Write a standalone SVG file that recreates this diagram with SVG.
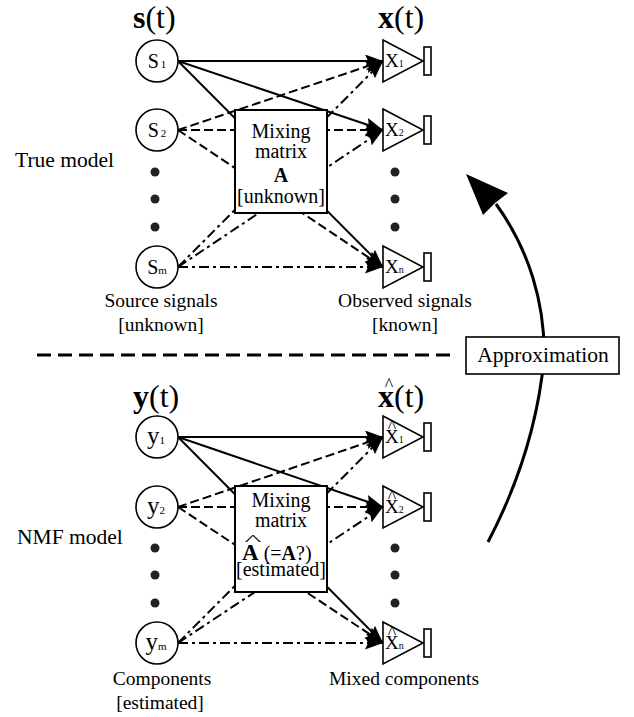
<svg xmlns="http://www.w3.org/2000/svg" width="634" height="717" viewBox="0 0 634 717">
<defs>
<marker id="ah" markerUnits="userSpaceOnUse" viewBox="0 0 18 13" refX="18" refY="6.5" markerWidth="18" markerHeight="13" orient="auto">
<path d="M0,0 L18,6.5 L0,13 L3,6.5 z" fill="#000"/>
</marker>
<style>
text{font-family:"Liberation Serif","Times New Roman",serif;fill:#000}
.lbl{font-size:19.5px;text-anchor:middle}
.side{font-size:21.5px}
.box{font-size:20px;text-anchor:middle}
.big{font-size:32px}
.nd{fill:#fff;stroke:#000;stroke-width:1.6}
.sub{font-size:11px}
.c{fill:none;stroke:#000;stroke-width:2;marker-end:url(#ah)}
.da{stroke-dasharray:9 4}
.dd{stroke-dasharray:10 4 3 4}
.dot{fill:#222}
.hat{font-size:18px;text-anchor:middle}
.sl{font-size:20px;text-anchor:middle}
.yl{font-size:25px;text-anchor:middle}
.xl{font-size:19px}
</style>
</defs>
<rect width="634" height="717" fill="#fff"/>

<g id="connectors">
<path class="c" d="M178,61 L383,61"/>
<path class="c" d="M178,61 L383,130"/>
<path class="c" d="M178,61 L383,267"/>
<path class="c da" d="M178,130 L383,61"/>
<path class="c da" d="M178,130 L383,130"/>
<path class="c da" d="M178,130 L383,267"/>
<path class="c dd" d="M178,267 L383,61"/>
<path class="c dd" d="M178,267 L383,130"/>
<path class="c dd" d="M178,267 L383,267"/>
<path class="c" d="M178,437 L383,437"/>
<path class="c" d="M178,437 L383,507"/>
<path class="c" d="M178,437 L383,643"/>
<path class="c da" d="M178,507 L383,437"/>
<path class="c da" d="M178,507 L383,507"/>
<path class="c da" d="M178,507 L383,643"/>
<path class="c dd" d="M178,643 L383,437"/>
<path class="c dd" d="M178,643 L383,507"/>
<path class="c dd" d="M178,643 L383,643"/>
<path d="M37,355 L450,355" stroke="#000" stroke-width="3" stroke-dasharray="14 7" fill="none"/>
<path d="M488,542 Q535,452 544,359 A252,252 0 0,0 496,204" fill="none" stroke="#000" stroke-width="3"/>
<polygon points="466,174 508,193 495,203 483,215" fill="#000"/>
</g>

<g id="labels">
<text x="133" y="28" class="big"><tspan font-weight="bold">s</tspan>(t)</text>
<text x="378" y="28" class="big"><tspan font-weight="bold">x</tspan>(t)</text>
<text x="133" y="407" class="big"><tspan font-weight="bold">y</tspan>(t)</text>
<text x="378" y="407" class="big"><tspan font-weight="bold">x</tspan>(t)</text>
<text x="389" y="391" class="hat" font-size="20">^</text>
<text x="15" y="167" class="side">True model</text>
<text x="17" y="544" class="side">NMF model</text>
<text x="161" y="307" class="lbl">Source signals</text>
<text x="161" y="331" class="lbl">[unknown]</text>
<text x="405" y="307" class="lbl">Observed signals</text>
<text x="405" y="331" class="lbl">[known]</text>
<text x="162" y="685" class="lbl">Components</text>
<text x="160" y="709" class="lbl">[estimated]</text>
<text x="404" y="685" class="lbl">Mixed components</text>
</g>

<g id="approx">
<rect x="466" y="337" width="153" height="37" fill="#fff" stroke="#000" stroke-width="1.6"/>
<text x="543" y="362" font-size="21.5" text-anchor="middle">Approximation</text>
</g>

<g id="mix-top">
<rect x="235" y="110" width="92" height="103" fill="#fff" stroke="#000" stroke-width="2"/>
<text x="281" y="138" class="box">Mixing</text>
<text x="281" y="158" class="box">matrix</text>
<text x="281" y="182" class="box" font-weight="bold" font-size="22">A</text>
<text x="281" y="203" class="box">[unknown]</text>
</g>

<g id="mix-bottom">
<rect x="235" y="486" width="92" height="106" fill="#fff" stroke="#000" stroke-width="2"/>
<text x="281" y="507" class="box">Mixing</text>
<text x="281" y="527" class="box">matrix</text>
<text x="242" y="560" font-size="20"><tspan font-weight="bold" font-size="23">A</tspan> (=<tspan font-weight="bold">A</tspan>?)</text>
<text transform="translate(253,545) scale(2,0.8)" class="hat" font-size="20">^</text>
<text x="281" y="576" class="box">[estimated]</text>
</g>

<g id="s1"><circle cx="157" cy="61" r="21" class="nd"/><text x="157" y="68" class="sl">S<tspan dx="2" class="sub">1</tspan></text></g>
<g id="s2"><circle cx="157" cy="130" r="21" class="nd"/><text x="157" y="137" class="sl">S<tspan dx="2" class="sub">2</tspan></text></g>
<g id="sm"><circle cx="157" cy="267" r="21" class="nd"/><text x="157" y="274" class="sl">S<tspan class="sub">m</tspan></text></g>
<g id="sdots"><circle cx="155" cy="172" r="4.5" class="dot"/><circle cx="155" cy="199" r="4.5" class="dot"/><circle cx="155" cy="227" r="4.5" class="dot"/></g>

<g id="y1"><circle cx="157" cy="437" r="21" class="nd"/><text x="156" y="444" class="yl">y<tspan class="sub">1</tspan></text></g>
<g id="y2"><circle cx="157" cy="507" r="21" class="nd"/><text x="156" y="514" class="yl">y<tspan class="sub">2</tspan></text></g>
<g id="ym"><circle cx="157" cy="643" r="21" class="nd"/><text x="156" y="650" class="yl">y<tspan class="sub">m</tspan></text></g>
<g id="ydots"><circle cx="155" cy="548" r="4.5" class="dot"/><circle cx="155" cy="575" r="4.5" class="dot"/><circle cx="155" cy="603" r="4.5" class="dot"/></g>

<g id="x1"><path d="M383,40 L423,61 L383,82 Z" class="nd"/><rect x="424" y="47" width="7" height="28" class="nd"/><text x="385" y="67" class="xl">X<tspan font-size="10">1</tspan></text></g>
<g id="x2"><path d="M383,109 L423,130 L383,151 Z" class="nd"/><rect x="424" y="116" width="7" height="28" class="nd"/><text x="385" y="136" class="xl">X<tspan font-size="10">2</tspan></text></g>
<g id="xn"><path d="M383,246 L423,267 L383,288 Z" class="nd"/><rect x="424" y="253" width="7" height="28" class="nd"/><text x="385" y="273" class="xl">X<tspan font-size="10">n</tspan></text></g>
<g id="xdots"><circle cx="395" cy="172" r="4.5" class="dot"/><circle cx="395" cy="199" r="4.5" class="dot"/><circle cx="395" cy="227" r="4.5" class="dot"/></g>

<g id="xh1"><path d="M383,416 L423,437 L383,458 Z" class="nd"/><rect x="424" y="423" width="7" height="28" class="nd"/><text x="385" y="443" class="xl">X<tspan font-size="10">1</tspan></text><text x="392" y="433" class="hat">^</text></g>
<g id="xh2"><path d="M383,486 L423,507 L383,528 Z" class="nd"/><rect x="424" y="493" width="7" height="28" class="nd"/><text x="385" y="513" class="xl">X<tspan font-size="10">2</tspan></text><text x="392" y="503" class="hat">^</text></g>
<g id="xhn"><path d="M383,622 L423,643 L383,664 Z" class="nd"/><rect x="424" y="629" width="7" height="28" class="nd"/><text x="385" y="649" class="xl">X<tspan font-size="10">n</tspan></text><text x="392" y="639" class="hat">^</text></g>
<g id="xhdots"><circle cx="395" cy="548" r="4.5" class="dot"/><circle cx="395" cy="575" r="4.5" class="dot"/><circle cx="395" cy="603" r="4.5" class="dot"/></g>
</svg>
